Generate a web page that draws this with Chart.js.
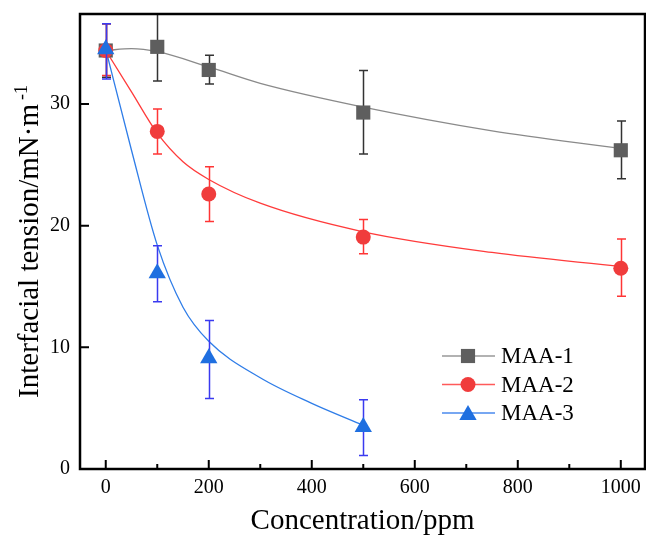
<!DOCTYPE html>
<html>
<head>
<meta charset="utf-8">
<script src="https://cdn.jsdelivr.net/npm/chart.js@4.4.1/dist/chart.umd.min.js"></script>
<style>
  html, body { margin: 0; padding: 0; background: #fff; }
</style>
</head>
<body>
<canvas id="chart" width="646" height="537"></canvas>
<script>
// measured points (concentration in ppm, tension in mN/m)
const seriesNames = ['MAA-1', 'MAA-2', 'MAA-3'];
const concentration = [0, 100, 200, 500, 1000];
const concentration3 = [0, 100, 200, 500];

const maa1 = [34.4, 34.7, 32.8, 29.3, 26.2];
const maa1Low = [32.2, 31.9, 31.65, 25.9, 23.85];
const maa1High = [36.6, 37.6, 34.0, 32.75, 28.6];

const maa2 = [34.4, 27.75, 22.6, 19.06, 16.5];
const maa2Low = [32.35, 25.9, 20.35, 17.7, 14.2];
const maa2High = [36.6, 29.6, 24.85, 20.5, 18.9];

const maa3 = [34.5, 16.1, 9.1, 3.45];
const maa3Low = [32.05, 13.75, 5.8, 1.1];
const maa3High = [36.6, 18.35, 12.2, 5.7];

// fitted curves
const fit1X = [0, 50, 100, 200, 300, 500, 750, 1000];
const fit1Y = [34.4, 34.55, 34.3, 33.05, 31.7, 29.75, 27.8, 26.35];
const fit2X = [0, 50, 100, 150, 200, 300, 500, 750, 1000];
const fit2Y = [34.4, 31.0, 27.6, 25.25, 23.8, 21.85, 19.5, 17.8, 16.65];
const fit3X = [0, 50, 100, 150, 200, 300, 400, 500];
const fit3Y = [34.5, 26.2, 18.4, 13.3, 10.5, 7.5, 5.4, 3.6];

// axis ticks
const xTicks = [0, 200, 400, 600, 800, 1000];
const xMinorTicks = [100, 300, 500, 700, 900];
const yTicks = [0, 10, 20, 30];

const FONT = "'Liberation Serif', 'Times New Roman', serif";

const colors = {
    gray: { marker: '#5e5e5e', line: '#8a8a8a', err: '#333333', legend: '#999999' },
    red: { marker: '#f03c3c', line: '#ff3b3b', err: '#ff3535', legend: '#ff5a5a' },
    blue: { marker: '#1f6fe0', line: '#2f7de8', err: '#3a3af0', legend: '#4a8aee' }
};

const toPoints = (xs, ys) => xs.map((x, i) => ({ x: x, y: ys[i] }));

const fitDataset = (xs, ys, color, order) => ({
    data: toPoints(xs, ys),
    showLine: true,
    borderColor: color,
    borderWidth: 1.3,
    pointRadius: 0,
    cubicInterpolationMode: 'monotone',
    order: order
});

const markerDataset = (xs, ys, low, high, c, style, radius, order) => ({
    data: toPoints(xs, ys),
    showLine: false,
    pointStyle: style,
    pointRadius: radius,
    pointHoverRadius: radius,
    backgroundColor: c.marker,
    borderColor: c.marker,
    pointBorderWidth: 0,
    errLow: low,
    errHigh: high,
    errColor: c.err,
    order: order
});

const drawMarker = (ctx, style, x, y, r) => {
    ctx.beginPath();
    if (style === 'rect') {
        const s = r * Math.SQRT1_2;
        ctx.rect(x - s, y - s, 2 * s, 2 * s);
    } else if (style === 'circle') {
        ctx.arc(x, y, r, 0, Math.PI * 2);
    } else {
        let a = 0;
        ctx.moveTo(x + Math.sin(a) * r, y - Math.cos(a) * r);
        a += 2 * Math.PI / 3;
        ctx.lineTo(x + Math.sin(a) * r, y - Math.cos(a) * r);
        a += 2 * Math.PI / 3;
        ctx.lineTo(x + Math.sin(a) * r, y - Math.cos(a) * r);
        ctx.closePath();
    }
    ctx.fill();
};

const noPadding = scale => {
    scale.paddingTop = 0;
    scale.paddingBottom = 0;
    scale.paddingLeft = 0;
    scale.paddingRight = 0;
};

// error bars, axis box, inward ticks, y title and legend
const decorations = {
    id: 'decorations',
    beforeDatasetDraw(chart, args) {
        const ds = chart.data.datasets[args.index];
        if (!ds.errLow) return;
        const { ctx, chartArea } = chart;
        const xs = chart.scales.x, ys = chart.scales.y;
        ctx.save();
        ctx.beginPath();
        ctx.rect(chartArea.left, chartArea.top, chartArea.right - chartArea.left, chartArea.bottom - chartArea.top);
        ctx.clip();
        ctx.strokeStyle = ds.errColor;
        ctx.lineWidth = 1.5;
        ds.data.forEach((p, i) => {
            const px = Math.round(xs.getPixelForValue(p.x)) + 0.5;
            const top = ys.getPixelForValue(ds.errHigh[i]);
            const bot = ys.getPixelForValue(ds.errLow[i]);
            ctx.beginPath();
            ctx.moveTo(px, top); ctx.lineTo(px, bot);
            ctx.moveTo(px - 4.5, top); ctx.lineTo(px + 4.5, top);
            ctx.moveTo(px - 4.5, bot); ctx.lineTo(px + 4.5, bot);
            ctx.stroke();
        });
        ctx.restore();
    },
    afterDraw(chart) {
        const { ctx, chartArea } = chart;
        const xs = chart.scales.x, ys = chart.scales.y;
        ctx.save();
        ctx.strokeStyle = '#000';
        ctx.lineWidth = 2.5;
        ctx.strokeRect(chartArea.left, chartArea.top, chartArea.right - chartArea.left, chartArea.bottom - chartArea.top);

        ctx.lineWidth = 2;
        ctx.beginPath();
        xTicks.forEach(v => {
            const px = xs.getPixelForValue(v);
            ctx.moveTo(px, chartArea.bottom); ctx.lineTo(px, chartArea.bottom - 9);
        });
        xMinorTicks.forEach(v => {
            const px = xs.getPixelForValue(v);
            ctx.moveTo(px, chartArea.bottom); ctx.lineTo(px, chartArea.bottom - 5);
        });
        yTicks.forEach(v => {
            const py = ys.getPixelForValue(v);
            ctx.moveTo(chartArea.left, py); ctx.lineTo(chartArea.left + 9, py);
        });
        ctx.stroke();

        // y axis title with superscript
        const main = 'Interfacial tension/mN·m';
        const sup = '-1';
        ctx.fillStyle = '#000';
        ctx.font = '29px ' + FONT;
        const mainW = ctx.measureText(main).width;
        ctx.font = '18px ' + FONT;
        const supW = ctx.measureText(sup).width;
        const gap = 4;
        const total = mainW + gap + supW;
        const cy = (chartArea.top + chartArea.bottom) / 2;
        ctx.translate(38, cy);
        ctx.rotate(-Math.PI / 2);
        ctx.textBaseline = 'alphabetic';
        ctx.textAlign = 'left';
        ctx.font = '29px ' + FONT;
        ctx.fillText(main, -total / 2, 0);
        ctx.font = '18px ' + FONT;
        ctx.fillText(sup, -total / 2 + mainW + gap, -11);
        ctx.restore();

        // legend
        const items = [
            { c: colors.gray, style: 'rect', r: 10 },
            { c: colors.red, style: 'circle', r: 7.5 },
            { c: colors.blue, style: 'triangle', r: 10 }
        ];
        ctx.save();
        ctx.font = '23px ' + FONT;
        ctx.textBaseline = 'middle';
        ctx.textAlign = 'left';
        items.forEach((it, i) => {
            const y = 356 + i * 28.5;
            ctx.strokeStyle = it.c.legend;
            ctx.lineWidth = 1.5;
            ctx.beginPath();
            ctx.moveTo(442, y); ctx.lineTo(495, y);
            ctx.stroke();
            ctx.fillStyle = it.c.marker;
            drawMarker(ctx, it.style, 468, it.style === 'triangle' ? y + 2 : y, it.r);
            ctx.fillStyle = '#000';
            ctx.fillText(seriesNames[i], 501, y + 1);
        });
        ctx.restore();
    }
};

new Chart(document.getElementById('chart'), {
    type: 'scatter',
    data: {
        datasets: [
            fitDataset(fit1X, fit1Y, colors.gray.line, 6),
            fitDataset(fit2X, fit2Y, colors.red.line, 5),
            fitDataset(fit3X, fit3Y, colors.blue.line, 4),
            markerDataset(concentration, maa1, maa1Low, maa1High, colors.gray, 'rect', 10, 3),
            markerDataset(concentration, maa2, maa2Low, maa2High, colors.red, 'circle', 7.5, 2),
            markerDataset(concentration3, maa3, maa3Low, maa3High, colors.blue, 'triangle', 10, 1)
        ]
    },
    options: {
        responsive: false,
        animation: false,
        devicePixelRatio: 1,
        layout: { autoPadding: false, padding: { top: 14, right: 1, left: 0, bottom: 0 } },
        plugins: {
            legend: { display: false },
            tooltip: { enabled: false }
        },
        scales: {
            x: {
                type: 'linear',
                min: -50,
                max: 1047,
                afterBuildTicks: scale => { scale.ticks = xTicks.map(v => ({ value: v })); },
                afterFit: scale => { scale.height = 68; noPadding(scale); },
                grid: { display: false, drawTicks: false },
                border: { display: false },
                ticks: {
                    color: '#000',
                    padding: 7,
                    font: { family: FONT, size: 20 },
                    callback: v => String(v)
                },
                title: {
                    display: true,
                    text: 'Concentration/ppm',
                    color: '#000',
                    font: { family: FONT, size: 29 },
                    padding: { top: 0, bottom: -2 }
                }
            },
            y: {
                type: 'linear',
                min: 0,
                max: 37.4,
                afterBuildTicks: scale => { scale.ticks = yTicks.map(v => ({ value: v })); },
                afterFit: scale => { scale.width = 80; noPadding(scale); },
                grid: { display: false, drawTicks: false },
                border: { display: false },
                ticks: {
                    color: '#000',
                    padding: 10,
                    font: { family: FONT, size: 20 },
                    callback: v => String(v)
                }
            }
        }
    },
    plugins: [decorations]
});
</script>
</body>
</html>
